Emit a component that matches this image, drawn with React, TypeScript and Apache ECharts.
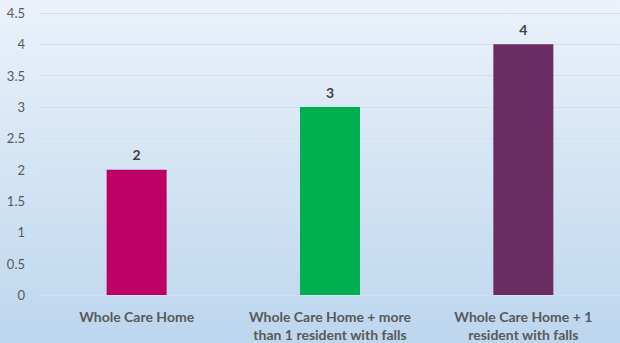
import React, { useEffect, useRef } from "react";
import * as echarts from "echarts";

const categories = [
  "Whole Care Home",
  "Whole Care Home + more\nthan 1 resident with falls",
  "Whole Care Home + 1\nresident with falls",
];
const values = [2, 3, 4];
const barColors = ["#BE0064", "#00B050", "#6B2C62"];
const yTicks = { min: 0, max: 4.5, interval: 0.5 };

export default function App() {
  const ref = useRef<HTMLDivElement>(null);
  useEffect(() => {
    document.body.style.margin = "0";
    const chart = echarts.init(ref.current!, null, { renderer: "svg" });
    chart.setOption({
      animation: false,
      backgroundColor: new echarts.graphic.LinearGradient(0, 0, 0, 1, [
        { offset: 0, color: "#EBF2FA" },
        { offset: 1, color: "#BCD6EE" },
      ]),
      grid: { left: 40, right: 0, top: 13, bottom: 48, containLabel: false },
      xAxis: {
        type: "category",
        data: categories,
        axisLine: { show: true, lineStyle: { color: "#D3DFEC", width: 1 } },
        axisTick: { show: false },
        axisLabel: {
          color: "#595959",
          fontFamily: "Lato",
          fontWeight: "bold",
          fontSize: 14,
          lineHeight: 18,
          margin: 12,
          interval: 0,
        },
      },
      yAxis: {
        type: "value",
        min: yTicks.min,
        max: yTicks.max,
        interval: yTicks.interval,
        axisLine: { show: false },
        axisTick: { show: false },
        axisLabel: {
          color: "#595959",
          fontFamily: "Lato",
          fontSize: 13,
          margin: 15,
        },
        splitLine: { lineStyle: { color: "#D3DFEC", width: 1 } },
      },
      series: [
        {
          type: "bar",
          barWidth: 60,
          data: values.map((v, i) => ({ value: v, itemStyle: { color: barColors[i] } })),
          label: {
            show: true,
            position: "top",
            distance: 8,
            color: "#404040",
            fontFamily: "Lato",
            fontWeight: "bold",
            fontSize: 14,
          },
        },
      ],
    });
    return () => chart.dispose();
  }, []);
  return <div ref={ref} style={{ width: 620, height: 343 }} />;
}
